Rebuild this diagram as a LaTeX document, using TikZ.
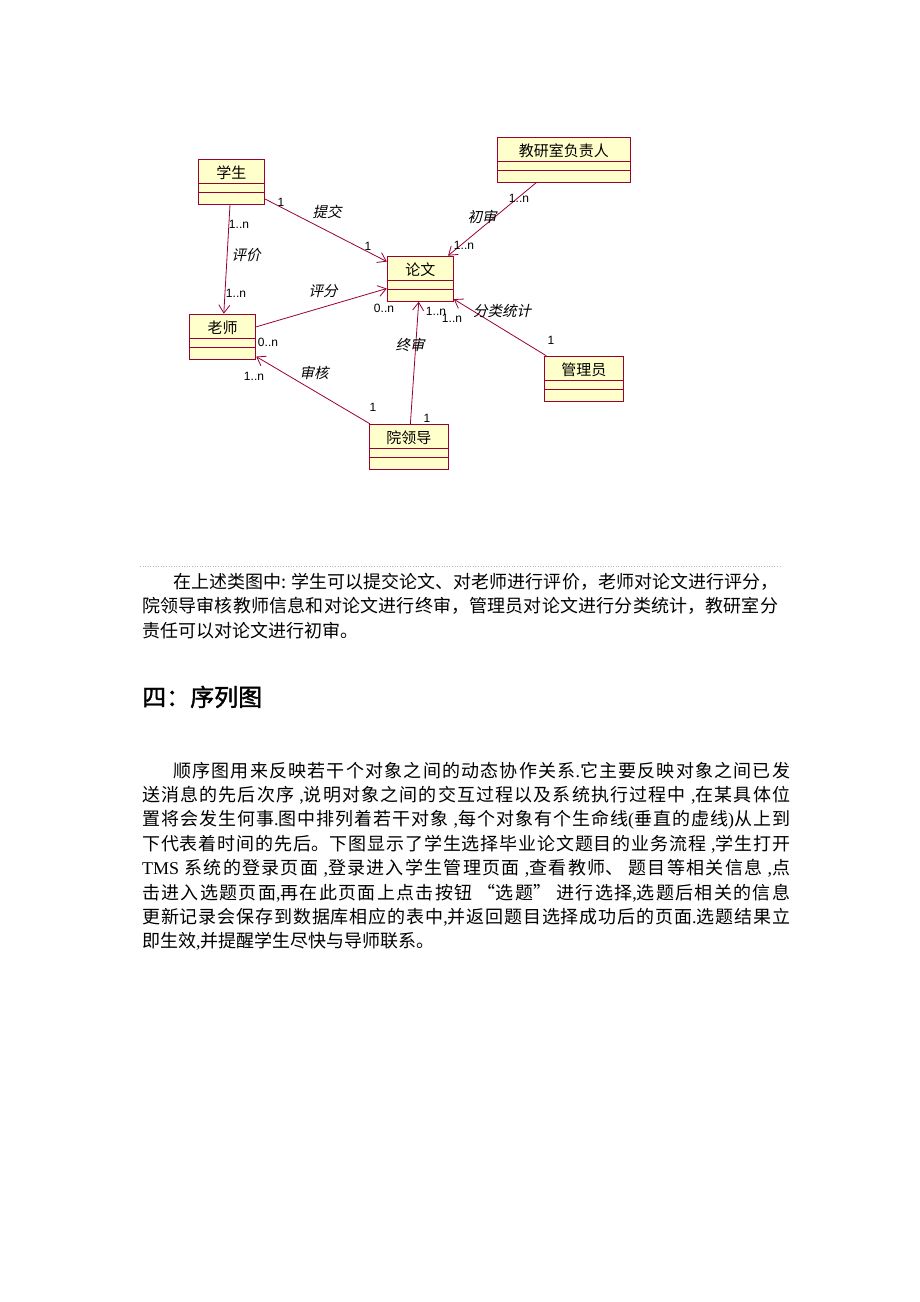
\documentclass[tikz,border=0pt]{standalone}
\usepackage{fontspec}
\setmainfont{Liberation Serif}
\newfontfamily\cjk{Noto Sans CJK SC}
\newfontfamily\cjkit{Noto Sans CJK SC}[FakeSlant=0.22]
\newfontfamily\cjkhead{Noto Sans CJK SC}[FakeBold=1.5]
\newfontfamily\multfont{Liberation Sans}
\usetikzlibrary{arrows.meta}
\XeTeXlinebreaklocale "zh"
\XeTeXlinebreakskip=0pt plus 2pt
\newcommand\latn[1]{{\rmfamily#1}}

\definecolor{umlred}{RGB}{153,0,51}
\definecolor{umlfill}{RGB}{255,255,204}

\tikzset{
  umlclass/.style={draw=umlred, fill=umlfill, line width=1pt, inner sep=0pt,
    minimum height=45pt, text height=12.7pt, text depth=19.3pt,
    font=\cjk\fontsize{15}{15}\selectfont,
    path picture={
      \draw[umlred, line width=1pt] ([yshift=-24pt]path picture bounding box.north west) -- ([yshift=-24pt]path picture bounding box.north east);
      \draw[umlred, line width=1pt] ([yshift=-33pt]path picture bounding box.north west) -- ([yshift=-33pt]path picture bounding box.north east);
    }},
  assoc/.style={draw=umlred, line width=0.8pt, -{Straight Barb[length=8pt,width=11pt]}},
  role/.style={font=\cjkit\fontsize{14.5}{14.5}\selectfont, inner sep=0pt},
  mult/.style={font=\multfont\fontsize{12}{12}\selectfont, inner sep=0pt},
  para/.style={anchor=base west, inner sep=0pt, align=justify},
}

\begin{document}
\begin{tikzpicture}[x=1pt, y=-1pt]
    \fill[white] (0,0) rectangle (920,1302);
    \useasboundingbox (0,0) rectangle (920,1302);

    %Classes
    \node[umlclass, minimum width=66pt] (xuesheng) at (231.3,181.7) {学生};
    \node[umlclass, minimum width=66pt] (lunwen) at (420.3,278.7) {论文};
    \node[umlclass, minimum width=133pt] (fuzeren) at (563.8,159.8) {教研室负责人};
    \node[umlclass, minimum width=66.4pt] (laoshi) at (222.5,336.7) {老师};
    \node[umlclass, minimum width=79pt] (lingdao) at (408.8,446.8) {院领导};
    \node[umlclass, minimum width=79pt] (guanli) at (583.8,378.8) {管理员};

    %Associations
    \draw[assoc] (xuesheng) -- (lunwen);
    \draw[assoc] (xuesheng) -- (laoshi);
    \draw[assoc] (laoshi) -- (lunwen);
    \draw[assoc] (lingdao) -- (laoshi);
    \draw[assoc] (lingdao) -- (lunwen);
    \draw[assoc] (guanli) -- (lunwen);
    \draw[assoc] (fuzeren) -- (lunwen);

    %Roles
    \node[role] (r-tijiao) at (327,212) {提交};
    \node[role] (r-pingjia) at (246,255) {评价};
    \node[role] (r-pingfen) at (323,291) {评分};
    \node[role] (r-shenhe) at (314,373) {审核};
    \node[role] (r-zhongshen) at (410,345) {终审};
    \node[role] (r-fenlei) at (502,311) {分类统计};
    \node[role] (r-chushen) at (482,217) {初审};

    %Multiplicities
    \node[mult] (m1) at (281,202) {1};
    \node[mult] (m2) at (368,246) {1};
    \node[mult] (m3) at (239,224) {1..n};
    \node[mult] (m4) at (236,293) {1..n};
    \node[mult] (m5) at (384,308) {0..n};
    \node[mult] (m6) at (268,342) {0..n};
    \node[mult] (m7) at (254,376) {1..n};
    \node[mult] (m8) at (373,407) {1};
    \node[mult] (m9) at (427,418) {1};
    \node[mult] (m10) at (436,311) {1..n};
    \node[mult] (m11) at (452,318) {1..n};
    \node[mult] (m12) at (551,340) {1};
    \node[mult] (m13) at (519,198) {1..n};
    \node[mult] (m14) at (464,245) {1..n};

    %Text
    \draw[dotted, gray!55, line width=0.6pt] (140,566.7) -- (781,566.7);
    \node[para, text width=636pt, font=\cjk\fontsize{18}{24.5}\selectfont] (duan1) at (142,588)
      {\hspace*{31pt}在上述类图中: 学生可以提交论文、对老师进行评价，老师对论文进行评分，\linebreak
       院领导审核教师信息和对论文进行终审，管理员对论文进行分类统计，教研室分\linebreak
       责任可以对论文进行初审。};
    \node[anchor=base west, inner sep=0pt, font=\cjkhead\fontsize{24}{24}\selectfont] (biaoti) at (142,706) {四：序列图};
    \node[para, text width=648pt, font=\cjk\fontsize{18}{24.4}\selectfont] (duan2) at (142,777)
      {\hspace*{31pt}顺序图用来反映若干个对象之间的动态协作关系\latn{.}它主要反映对象之间已发\linebreak
       送消息的先后次序 \latn{,}说明对象之间的交互过程以及系统执行过程中 \latn{,}在某具体位\linebreak
       置将会发生何事\latn{.}图中排列着若干对象 \latn{,}每个对象有个生命线\latn{(}垂直的虚线\latn{)}从上到\linebreak
       下代表着时间的先后。下图显示了学生选择毕业论文题目的业务流程 \latn{,}学生打开\linebreak
       \latn{TMS} 系统的登录页面 \latn{,}登录进入学生管理页面 \latn{,}查看教师、 题目等相关信息 \latn{,}点\linebreak
       击进入选题页面\latn{,}再在此页面上点击按钮 “选题” 进行选择\latn{,}选题后相关的信息\linebreak
       更新记录会保存到数据库相应的表中\latn{,}并返回题目选择成功后的页面\latn{.}选题结果立\linebreak
       即生效\latn{,}并提醒学生尽快与导师联系。};

\end{tikzpicture}
\end{document}
